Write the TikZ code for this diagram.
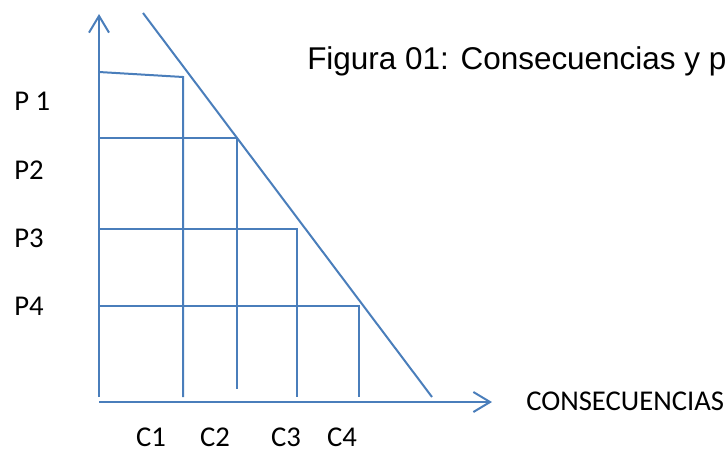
\documentclass[tikz,border=0pt]{standalone}
\usepackage{fontspec}
\setmainfont{Carlito}
\newfontfamily\titlefont{Liberation Sans}
\usepackage{xcolor}
\usepackage{tikz}
\usetikzlibrary{arrows.meta}
\definecolor{linea}{HTML}{4A7EBB}

\begin{document}
\begin{tikzpicture}[x=0.75pt,y=0.75pt,
  ln/.style={draw=linea,line width=1.5pt},
  ax/.style={ln,-{Straight Barb[length=12.5pt,width=15pt,line width=1.5pt]}},
  lbl/.style={font=\fontsize{21.5}{24}\selectfont,inner sep=0pt},
]
\useasboundingbox (0,0) rectangle (728,451);

\node[lbl,anchor=base west,font=\titlefont\fontsize{23.6}{26}\selectfont] (titulo) at (307,382) {Figura 01: Consecuencias y p};

% ejes
\coordinate (y0) at (99,54);
\coordinate (y1) at (99,437);
\coordinate (x0) at (99,49);
\coordinate (x1) at (492,49);
\draw[ax] (y0) -- (y1);
\draw[ax] (x0) -- (x1);

% recta limite
\coordinate (r0) at (143,438);
\coordinate (r1) at (432,54);
\draw[ln] (r0) -- (r1);

% escalones
\coordinate (p1) at (99,379);  \coordinate (q1) at (183,374); \coordinate (b1) at (183,54);
\coordinate (p2) at (99,313);  \coordinate (q2) at (237,313); \coordinate (b2) at (237,62);
\coordinate (p3) at (99,222);  \coordinate (q3) at (297,222); \coordinate (b3) at (297,54);
\coordinate (p4) at (99,145);  \coordinate (q4) at (359,145); \coordinate (b4) at (359,54);
\draw[ln] (p1) -- (q1) -- (b1);
\draw[ln] (p2) -- (q2) -- (b2);
\draw[ln] (p3) -- (q3) -- (b3);
\draw[ln] (p4) -- (q4) -- (b4);

\node[lbl,anchor=west] (lp1) at (14,350) {P 1};
\node[lbl,anchor=west] (lp2) at (14,281) {P2};
\node[lbl,anchor=west] (lp3) at (14,213) {P3};
\node[lbl,anchor=west] (lp4) at (14,145) {P4};

\node[lbl] (lc1) at (151,14) {C1};
\node[lbl] (lc2) at (215,14) {C2};
\node[lbl] (lc3) at (286,14) {C3};
\node[lbl] (lc4) at (342,14) {C4};

\node[lbl,anchor=west] (cons) at (526,50) {CONSECUENCIAS};
\end{tikzpicture}
\end{document}
